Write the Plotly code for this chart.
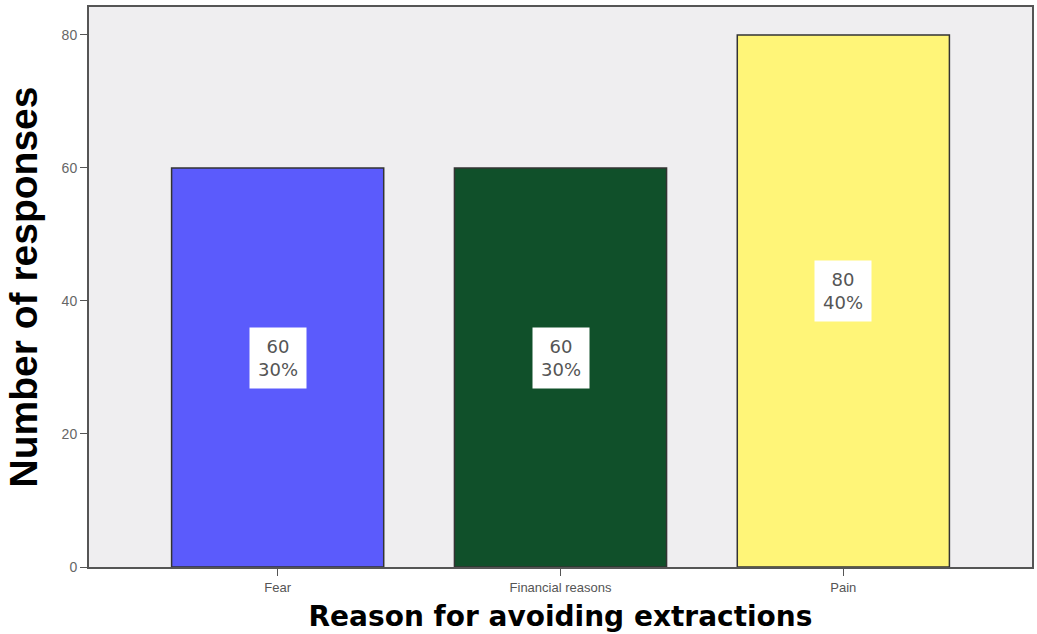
import plotly.graph_objects as go

categories = ["Fear", "Financial reasons", "Pain"]
counts = [60, 60, 80]
percents = ["30%", "30%", "40%"]
bar_colors = ["#5B5BFC", "#10502A", "#FFF578"]
y_ticks = [0, 20, 40, 60, 80]

fig = go.Figure()
fig.add_trace(go.Bar(
    x=categories, y=counts, width=0.75,
    marker=dict(color=bar_colors, line=dict(color="#333333", width=1.5)),
    showlegend=False, hoverinfo="skip",
))

for cat, c, p in zip(categories, counts, percents):
    fig.add_annotation(
        x=cat, y=c / 2 + 1.5, text=f"{c}<br>{p}", showarrow=False,
        font=dict(family="DejaVu Sans", size=18, color="#555555"),
        bgcolor="white", borderpad=8,
    )

fig.update_layout(
    width=1037, height=634,
    margin=dict(l=89, r=5, t=7, b=67),
    paper_bgcolor="white", plot_bgcolor="#EFEEF0",
    xaxis=dict(
        range=[-0.667, 2.667], showgrid=False, showline=True, linecolor="#555555",
        linewidth=2, mirror=True, ticks="outside", ticklen=7, tickcolor="#555555",
        automargin=False,
        tickfont=dict(family="Liberation Sans", size=13, color="#555555"),
        title=dict(text="<b>Reason for avoiding extractions</b>", standoff=13,
                   font=dict(family="DejaVu Sans", size=28, color="black")),
    ),
    yaxis=dict(
        range=[0, 84.2], tickvals=y_ticks, showgrid=False, zeroline=False,
        showline=True, linecolor="#555555", linewidth=2, mirror=True,
        ticks="outside", ticklen=7, tickcolor="#555555", automargin=False,
        tickfont=dict(family="Liberation Sans", size=14, color="#666666"),
        title=dict(text="<b>Number of responses</b>", standoff=12,
                   font=dict(family="Liberation Sans", size=39, color="black")),
    ),
)

fig.write_html("out.html", config={"displayModeBar": False},
               post_script="document.body.style.margin='0';")
